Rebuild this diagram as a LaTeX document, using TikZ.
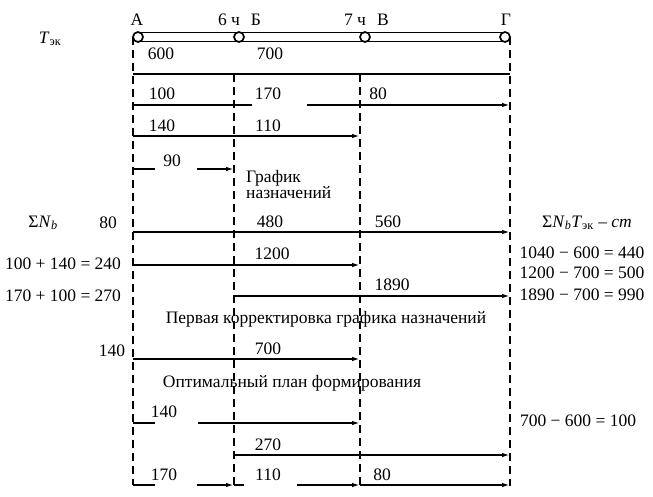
\documentclass[tikz,border=0pt]{standalone}
\usepackage{fontspec}
\setmainfont{Liberation Serif}
\usetikzlibrary{arrows.meta,positioning}

\newcommand{\SNb}{Σ\textit{N}\textsubscript{\textit{b}}}
\newcommand{\Tek}{\textit{T}\textsubscript{эк}}

\begin{document}
\begin{tikzpicture}[x=1pt,y=-1pt,
  lbl/.style={font=\fontsize{17.5}{19}\selectfont, inner sep=0pt},
  stn/.style={draw, circle, line width=1.7pt, fill=white, minimum size=10pt, inner sep=0pt},
  guide/.style={line width=1.6pt, dash pattern=on 8pt off 5pt},
  seg/.style={line width=1.6pt},
  arr/.style={seg, -{Latex[length=8pt,width=4.5pt]}},
]
\useasboundingbox (0,0) rectangle (653,496);

% time axis with the stations
\draw[seg, line width=1.8pt] (138,32.5) -- (505,32.5);
\draw[seg, line width=1.8pt] (138,41.5) -- (505,41.5);
\node[stn] (cA) at (138,37) {};
\node[stn] (cB) at (239,37) {};
\node[stn] (cV) at (365,37) {};
\node[stn] (cG) at (505,37) {};
\node[lbl] (tA) at (137,20) {А};
\node[lbl] (t6) at (229,20) {6 ч};
\node[lbl] (tB) at (256,20) {Б};
\node[lbl] (t7) at (355,20) {7 ч};
\node[lbl] (tV) at (383,20) {В};
\node[lbl] (tG) at (506,20) {Г};
\node[lbl] (tek) at (50,39) {\Tek};

% vertical dashed guides
\coordinate (gAt) at (133,37);  \coordinate (gAb) at (133,485);
\coordinate (gBt) at (234,74);  \coordinate (gBb) at (234,486);
\coordinate (gVt) at (360,74);  \coordinate (gVb) at (360,486);
\coordinate (gGt) at (510,37);  \coordinate (gGb) at (510,486);
\draw[guide] (gAt) -- (gAb);
\draw[guide] (gBt) -- (gBb);
\draw[guide] (gVt) -- (gVb);
\draw[guide] (gGt) -- (gGb);

% row 1
\coordinate (r1a) at (133,74); \coordinate (r1g) at (510,74);
\draw[seg] (r1a) -- (r1g);
\node[lbl] (n600) at (161,54) {600};
\node[lbl] (n700) at (270,54) {700};

% row 2
\coordinate (r2a) at (133,105); \coordinate (r2p) at (252,105);
\coordinate (r2q) at (307,105); \coordinate (r2g) at (510,105);
\draw[seg] (r2a) -- (r2p);
\draw[arr] (r2q) -- (r2g);
\node[lbl] (n100) at (162,94) {100};
\node[lbl] (n170) at (268,94) {170};
\node[lbl] (n80a) at (378,94) {80};

% row 3
\coordinate (r3a) at (133,136); \coordinate (r3v) at (360,136);
\draw[arr] (r3a) -- (r3v);
\node[lbl] (n140a) at (162,126) {140};
\node[lbl] (n110a) at (268,126) {110};

% row 4
\coordinate (r4a) at (133,169); \coordinate (r4p) at (155,169);
\coordinate (r4q) at (197,169); \coordinate (r4b) at (234,169);
\draw[seg] (r4a) -- (r4p);
\draw[arr] (r4q) -- (r4b);
\node[lbl] (n90) at (172,161) {90};
\node[lbl, anchor=west, align=left] (grafik) at (246,185)
  {График\\[-3pt]назначений};

% row 5
\coordinate (r5a) at (133,232); \coordinate (r5g) at (510,232);
\draw[arr] (r5a) -- (r5g);
\node[lbl] (snb) at (43,223) {\SNb};
\node[lbl] (n80b) at (108,223) {80};
\node[lbl] (n480) at (270,222) {480};
\node[lbl] (n560) at (388,222) {560};
\node[lbl] (snt) at (587,223) {\SNb\Tek\ – \textit{cm}};

% row 6
\coordinate (r6a) at (133,265); \coordinate (r6v) at (360,265);
\draw[arr] (r6a) -- (r6v);
\node[lbl] (s240) at (63,264) {100 + 140 = 240};
\node[lbl] (n1200) at (272,254) {1200};
\node[lbl] (d440) at (582,253) {1040 − 600 = 440};
\node[lbl] (d500) at (582,273) {1200 − 700 = 500};

% row 7
\coordinate (r7b) at (234,296); \coordinate (r7g) at (510,296);
\draw[arr] (r7b) -- (r7g);
\node[lbl] (s270) at (63,296) {170 + 100 = 270};
\node[lbl] (n1890) at (392,285) {1890};
\node[lbl] (d990) at (582,295) {1890 − 700 = 990};

\node[lbl] (korr) at (326,319) {Первая корректировка графика назначений};

% row 8
\coordinate (r8a) at (133,359); \coordinate (r8v) at (360,359);
\draw[arr] (r8a) -- (r8v);
\node[lbl] (n140b) at (112,351) {140};
\node[lbl] (n700b) at (268,349) {700};

\node[lbl] (opt) at (292,383) {Оптимальный план формирования};

% row 9
\coordinate (r9a) at (133,423); \coordinate (r9p) at (155,423);
\coordinate (r9q) at (198,423); \coordinate (r9v) at (360,423);
\draw[seg] (r9a) -- (r9p);
\draw[arr] (r9q) -- (r9v);
\node[lbl] (n140c) at (164,412) {140};
\node[lbl] (d100) at (578,421) {700 − 600 = 100};

% row 10
\coordinate (r10b) at (234,455); \coordinate (r10g) at (510,455);
\draw[arr] (r10b) -- (r10g);
\node[lbl] (n270) at (268,445) {270};

% row 11
\coordinate (r11a) at (133,485); \coordinate (r11p) at (155,485);
\coordinate (r11q) at (197,485); \coordinate (r11b) at (234,485);
\coordinate (r11s) at (244,485); \coordinate (r11t) at (297,485);
\coordinate (r11v) at (360,485); \coordinate (r11g) at (510,485);
\draw[seg] (r11a) -- (r11p);
\draw[arr] (r11q) -- (r11b);
\draw[seg] (r11b) -- (r11s);
\draw[arr] (r11t) -- (r11v);
\draw[arr] (r11v) -- (r11g);
\node[lbl] (n170b) at (164,475) {170};
\node[lbl] (n110b) at (268,475) {110};
\node[lbl] (n80c) at (382,475) {80};
\end{tikzpicture}
\end{document}
